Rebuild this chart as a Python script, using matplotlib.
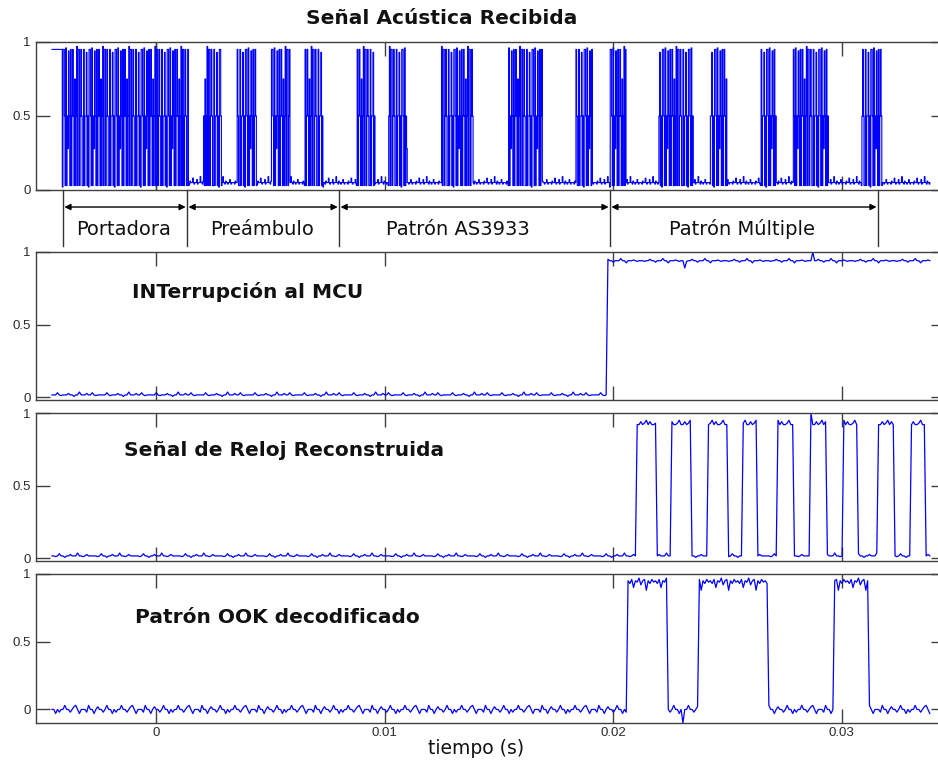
import matplotlib.pyplot as plt
import numpy as np

# ---------------- datos (tiempos en ms) ----------------
T_INICIO = -4.55
T_FIN = 33.86
PASO = 0.08            # paso de muestreo de las señales lógicas
PASO_ACUSTICA = 0.03   # paso de muestreo de la señal acústica

# Señal acústica recibida
ACUSTICA_ALTO_INICIAL = (-4.55, -4.11)
PORTADORA = (-4.11, 1.44)
RAFAGAS = [(2.06, 2.89), (3.54, 4.42), (5.03, 5.86), (6.47, 7.31),
           (8.75, 9.58), (10.15, 10.98), (12.47, 13.87), (15.40, 16.89),
           (18.37, 19.07), (19.82, 20.56), (22.00, 23.49), (24.23, 24.98),
           (26.42, 27.12), (27.87, 29.40), (30.84, 31.76)]
NIVELES_RAFAGA = [0.95, 0.95, 0.03, 0.50, 0.95, 0.50, 0.03, 0.03, 0.95, 0.03,
                  0.50, 0.50, 0.93, 0.03, 0.50, 0.02, 0.95, 0.95, 0.50, 0.03,
                  0.96, 0.03, 0.50, 0.28, 0.94, 0.50, 0.03, 0.95, 0.03, 0.50,
                  0.95, 0.50, 0.03, 0.75, 0.03, 0.50, 0.97, 0.03]
RUIDO_ACUSTICA = [0.05, 0.05, 0.04, 0.06, 0.05, 0.05, 0.05, 0.08, 0.05, 0.04,
                  0.05, 0.05, 0.05, 0.07, 0.04, 0.05, 0.05, 0.05, 0.09, 0.05,
                  0.05, 0.04, 0.06, 0.05, 0.05, 0.04, 0.05, 0.05, 0.07, 0.05,
                  0.04, 0.05, 0.05]

# Segmentos anotados bajo la señal acústica
LIMITES_SEGMENTOS = [-4.07, 1.36, 8.01, 19.86, 31.58]
NOMBRES_SEGMENTOS = ["Portadora", "Preámbulo", "Patrón AS3933", "Patrón Múltiple"]
CENTROS_NOMBRES = [-1.42, 4.64, 13.21, 25.63]

# INTerrupción al MCU
INT_FLANCO = 19.73
INT_RUIDO_BAJO = [0.015, 0.015, 0.015, 0.03, 0.015, 0.01, 0.015, 0.015, 0.015,
                  0.025, 0.015, 0.015, 0.005, 0.015, 0.015, 0.035, 0.015, 0.015,
                  0.015, 0.025, 0.015, 0.015, 0.03, 0.015, 0.01, 0.015, 0.015]
INT_RUIDO_ALTO = [0.94, 0.94, 0.935, 0.94, 0.94, 0.95, 0.94, 0.94, 0.93,
                  0.94, 0.94, 0.94, 0.955, 0.94, 0.94, 0.925, 0.94, 0.94,
                  0.94, 0.945, 0.94, 0.935, 0.94]
INT_PICOS = [(23.1, 0.89), (28.7, 1.0)]

# Señal de reloj reconstruida
RELOJ_PULSOS = [(21.04, 21.92), (22.57, 23.40), (24.10, 24.98), (25.68, 26.29),
                (27.17, 27.87), (28.65, 29.35), (30.05, 30.71), (31.58, 32.28),
                (33.03, 33.68)]
RELOJ_RUIDO_BAJO = [0.015, 0.015, 0.01, 0.015, 0.03, 0.015, 0.015, 0.005,
                    0.015, 0.015, 0.025, 0.015, 0.015, 0.015, 0.035, 0.015,
                    0.015, 0.01, 0.015, 0.025, 0.015, 0.015, 0.015]
RELOJ_RUIDO_ALTO = [0.93, 0.95, 0.92, 0.94, 0.92, 0.92, 0.93, 0.95, 0.92,
                    0.92, 0.94, 0.92]
RELOJ_PICOS = [(28.65, 1.0)]

# Patrón OOK decodificado
OOK_RUIDO_BAJO = [0.0, 0.0, -0.03, 0.0, -0.02, 0.0, 0.0, 0.03, 0.0, 0.0,
                  -0.02, 0.0, 0.02, 0.03, 0.0, -0.03, 0.0, 0.0, 0.0, -0.02,
                  0.03, 0.0, 0.0, -0.03, 0.0, 0.02, 0.0, 0.0, -0.02, 0.0, 0.03]
OOK_PULSOS = [(20.60, 22.35), (23.75, 26.77), (29.62, 31.19)]
OOK_RUIDO_ALTO = [0.95, 0.93, 0.96, 0.90, 0.95, 0.94, 0.97, 0.92, 0.95,
                  0.96, 0.88, 0.95, 0.93, 0.96, 0.94]
OOK_PICOS = [(23.05, -0.1)]

# ---------------- construcción de las señales ----------------
t_ms = np.arange(T_INICIO, T_FIN + PASO / 2, PASO)
ta_ms = np.arange(T_INICIO, T_FIN + PASO_ACUSTICA / 2, PASO_ACUSTICA)


def repetir(valores, n):
    return np.resize(np.array(valores, dtype=float), n)


def dentro(tt, intervalos):
    m = np.zeros(len(tt), dtype=bool)
    for a, b in intervalos:
        m |= (tt >= a) & (tt < b)
    return m


def picos(y, lista):
    for tp, v in lista:
        y[np.argmin(np.abs(t_ms - tp))] = v
    return y


def logica(pulsos, alto, bajo):
    n = len(t_ms)
    return np.where(dentro(t_ms, pulsos), repetir(alto, n), repetir(bajo, n))


na = len(ta_ms)
acustica = repetir(RUIDO_ACUSTICA, na)
m = dentro(ta_ms, [PORTADORA] + RAFAGAS)
acustica[m] = repetir(NIVELES_RAFAGA, na)[m]
acustica[dentro(ta_ms, [ACUSTICA_ALTO_INICIAL])] = 0.95

interrupcion = picos(logica([(INT_FLANCO, T_FIN + 1)], INT_RUIDO_ALTO, INT_RUIDO_BAJO), INT_PICOS)
reloj = picos(logica(RELOJ_PULSOS, RELOJ_RUIDO_ALTO, RELOJ_RUIDO_BAJO), RELOJ_PICOS)
ook = picos(logica(OOK_PULSOS, OOK_RUIDO_ALTO, OOK_RUIDO_BAJO), OOK_PICOS)

t = t_ms / 1000.0
ta = ta_ms / 1000.0

# ---------------- figura ----------------
W, H = 938, 765
fig = plt.figure(figsize=(W / 100, H / 100), dpi=100)
fig.patch.set_facecolor('white')

X_IZQ, X_DER = 36, 945          # bordes de los ejes en píxeles
XLIM = ((X_IZQ - 156) / 22860, (X_DER - 156) / 22860)
EJE = '#404040'
AZUL = '#0000ff'


def crear_eje(top, bottom, ylim):
    ax = fig.add_axes([X_IZQ / W, 1 - bottom / H, (X_DER - X_IZQ) / W, (bottom - top) / H])
    ax.set_xlim(*XLIM)
    ax.set_ylim(*ylim)
    ax.set_yticks([0, 0.5, 1])
    ax.set_yticklabels(['0', '0.5', '1'])
    ax.set_xticks([0, 0.01, 0.02, 0.03])
    ax.tick_params(direction='in', length=10, width=1, color=EJE, top=True, right=True,
                   labelsize=9.5, labelcolor='#2a2a2a', pad=4)
    for lbl in ax.get_yticklabels() + ax.get_xticklabels():
        lbl.set_family('Liberation Sans')
    for s in ax.spines.values():
        s.set_color(EJE)
        s.set_linewidth(1)
    return ax


ax1 = crear_eje(42, 190, (0, 1))
ax2 = crear_eje(252, 400, (-0.02, 1))
ax3 = crear_eje(413, 561, (-0.02, 1))
ax4 = crear_eje(574, 723, (-0.1, 1))
for ax in (ax1, ax2, ax3):
    ax.set_xticklabels([])
ax4.set_xticklabels(['0', '0.01', '0.02', '0.03'])
for lbl in ax4.get_xticklabels():
    lbl.set_family('Liberation Sans')
ax4.tick_params(axis='x', pad=3)

ax1.axvline(0, color='#606060', lw=1, zorder=1)
ax1.plot(ta, acustica, color=AZUL, lw=0.8, drawstyle='steps-post', zorder=2)
ax2.plot(t, interrupcion, color=AZUL, lw=0.9)
ax3.plot(t, reloj, color=AZUL, lw=0.9)
ax4.plot(t, ook, color=AZUL, lw=0.9)

# Anotación de segmentos bajo la señal acústica
trans = ax1.get_xaxis_transform()
for lim in LIMITES_SEGMENTOS:
    ax1.plot([lim / 1000] * 2, [0, -0.38], color='#333333', lw=1,
             transform=trans, clip_on=False)
for a, b in zip(LIMITES_SEGMENTOS[:-1], LIMITES_SEGMENTOS[1:]):
    ax1.annotate('', xy=(b / 1000, -0.115), xytext=(a / 1000, -0.115),
                 xycoords=trans, textcoords=trans,
                 arrowprops=dict(arrowstyle='<|-|>', color='black', lw=1,
                                 mutation_scale=9, shrinkA=1, shrinkB=1))
for nombre, c in zip(NOMBRES_SEGMENTOS, CENTROS_NOMBRES):
    ax1.text(c / 1000, -0.265, nombre, transform=trans, ha='center', va='center',
             fontsize=14, color='#111111')

# Textos
fig.text(442 / W, 1 - 18 / H, 'Señal Acústica Recibida', ha='center', va='center',
         fontsize=14.5, fontweight='bold', color='#111111')
ax2.text((132 - X_IZQ) / (X_DER - X_IZQ), 0.73, 'INTerrupción al MCU', transform=ax2.transAxes,
         ha='left', va='center', fontsize=14.5, fontweight='bold', color='#111111')
ax3.text((124 - X_IZQ) / (X_DER - X_IZQ), 0.75, 'Señal de Reloj Reconstruida', transform=ax3.transAxes,
         ha='left', va='center', fontsize=14.5, fontweight='bold', color='#111111')
ax4.text((135 - X_IZQ) / (X_DER - X_IZQ), 0.71, 'Patrón OOK decodificado', transform=ax4.transAxes,
         ha='left', va='center', fontsize=14.5, fontweight='bold', color='#111111')
fig.text(476 / W, 1 - 748 / H, 'tiempo (s)', ha='center', va='center',
         fontsize=13.5, color='#111111')

fig.savefig('out.png', dpi=100)
